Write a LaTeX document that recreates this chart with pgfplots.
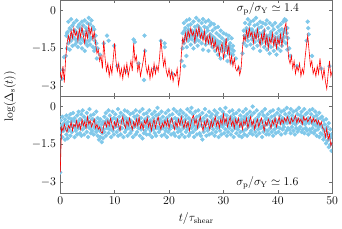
\documentclass[border=0pt,12pt]{standalone}
\usepackage{pgfplots}
\pgfplotsset{compat=1.18}
\usepgfplotslibrary{groupplots}
\definecolor{dotblue}{RGB}{128,200,234}
\definecolor{framegray}{RGB}{110,110,110}
\begin{document}
\begin{tikzpicture}
\begin{groupplot}[
    group style={group size=1 by 2, vertical sep=0pt, xticklabels at=edge bottom},
    width=274pt, height=97pt, scale only axis,
    xmin=0, xmax=50, ymin=-3.4, ymax=0.4,
    xtick={0,10,20,30,40,50},
    ytick={-3,-1.5,0},
    axis line style={framegray},
    tick style={framegray, thin},
    major tick length=3pt,
    tick align=inside,
    clip marker paths=true,
    blue dots/.style={only marks, mark=*, mark size=2.0pt, color=dotblue},
    red line/.style={color=red, line width=0.6pt, mark=none},
]
% ---- sigma_p/sigma_Y = 1.4 ----
\nextgroupplot[ylabel={$\log(\Delta_{\rm s}(t))$},
    ylabel style={at={(axis description cs:-0.185,0)}, anchor=center}]
\addplot[blue dots] coordinates {
(1.25,-0.9)(1.5,-0.45)(1.75,-0.7)(2,-0.35)(2.25,-0.6)(2.5,-0.5)(2.75,-0.8)(3,-0.4)
(3.25,-0.65)(3.5,-0.55)(3.75,-0.75)(4,-0.45)(4.25,-0.6)(4.5,-0.4)(4.75,-0.7)(5,-0.5)
(5.25,-0.3)(5.5,-0.55)(5.75,-0.4)(6,-0.65)(6.25,-0.75)(6.5,-1.0)
(22.5,-0.9)(22.75,-0.5)(23,-0.7)(23.25,-0.4)(23.5,-0.6)(23.75,-0.35)(24,-0.55)(24.25,-0.8)
(24.5,-0.45)(24.75,-0.65)(25,-0.3)(25.25,-0.6)(25.5,-0.4)(25.75,-0.75)(26,-0.5)(26.25,-0.35)
(26.5,-0.65)(26.75,-0.45)(27,-0.7)(27.25,-0.4)(27.5,-0.6)(27.75,-0.5)(28,-0.8)(28.25,-0.55)
(28.5,-0.7)(28.75,-0.9)(29,-0.65)(29.25,-1.0)(29.5,-0.8)(29.75,-1.1)(30,-0.9)(30.25,-1.2)
(30.5,-0.95)(30.75,-1.15)(31,-1.0)(31.25,-1.3)(31.5,-1.1)(31.75,-1.4)
(33.75,-0.8)(34,-0.5)(34.25,-0.7)(34.5,-0.35)(34.75,-0.55)(35,-0.45)(35.25,-0.75)(35.5,-0.4)
(35.75,-0.6)(36,-0.3)(36.25,-0.55)(36.5,-0.7)(36.75,-0.45)(37,-0.65)(37.25,-0.5)(37.5,-0.8)
(37.75,-0.55)(38,-0.4)(38.25,-0.7)(38.5,-0.5)(38.75,-0.85)(39,-0.6)(39.25,-0.75)(39.5,-0.5)
(39.75,-0.9)(40,-0.65)(40.25,-0.8)(40.5,-0.55)(40.75,-0.75)(41,-0.45)(41.25,-0.35)(41.5,-0.4)
(41.75,-0.7)
};
\addplot[blue dots] coordinates {
(1.125,-1.0)(1.375,-0.85)(1.625,-1.1)(1.875,-0.75)(2.125,-0.95)(2.375,-1.05)(2.625,-0.8)(2.875,-1.15)
(3.125,-0.9)(3.375,-1.0)(3.625,-0.7)(3.875,-1.1)(4.125,-0.85)(4.375,-0.95)(4.625,-1.2)(4.875,-0.8)
(5.125,-1.0)(5.375,-0.9)(5.625,-1.1)(5.875,-0.75)(6.125,-1.05)(6.375,-1.2)(6.625,-1.3)
(22.625,-1.2)(22.875,-0.8)(23.125,-1.0)(23.375,-0.9)(23.625,-0.75)(23.875,-1.1)(24.125,-0.85)(24.375,-1.0)
(24.625,-0.95)(24.875,-0.8)(25.125,-1.15)(25.375,-0.9)(25.625,-0.7)(25.875,-1.05)(26.125,-0.85)(26.375,-1.0)
(26.625,-0.9)(26.875,-1.1)(27.125,-0.8)(27.375,-1.0)(27.625,-0.95)(27.875,-1.2)(28.125,-1.05)(28.375,-1.1)
(28.625,-1.3)(28.875,-1.2)(29.125,-1.35)(29.375,-1.25)(29.625,-1.5)(29.875,-1.4)(30.125,-1.3)(30.375,-1.55)
(30.625,-1.45)(30.875,-1.6)(31.125,-1.4)(31.375,-1.7)(31.625,-1.55)(31.875,-1.6)
(33.875,-1.0)(34.125,-0.8)(34.375,-1.05)(34.625,-0.9)(34.875,-0.75)(35.125,-1.0)(35.375,-0.85)(35.625,-1.1)
(35.875,-0.95)(36.125,-0.8)(36.375,-1.0)(36.625,-0.9)(36.875,-1.15)(37.125,-0.95)(37.375,-0.85)(37.625,-1.1)
(37.875,-1.0)(38.125,-1.2)(38.375,-1.05)(38.625,-0.95)(38.875,-1.15)(39.125,-1.0)(39.375,-1.2)(39.625,-1.1)
(39.875,-1.3)(40.125,-1.05)(40.375,-1.15)(40.625,-0.95)(40.875,-1.1)(41.125,-0.85)(41.375,-0.75)(41.625,-0.9)
(41.875,-1.1)
};
\addplot[blue dots] coordinates {
(1,-1.8)(1.25,-1.5)(1.5,-1.3)(1.75,-1.55)(2,-1.2)(2.25,-1.4)(2.5,-1.1)(2.75,-1.35)
(3,-1.25)(3.25,-1.45)(3.5,-1.15)(3.75,-1.3)(4,-1.5)(4.25,-1.2)(4.5,-1.6)(4.75,-1.3)
(5,-1.4)(5.25,-1.2)(5.5,-1.35)(5.75,-1.1)(6,-1.45)(6.25,-1.6)(6.5,-1.5)(6.75,-1.9)
(22.5,-1.5)(22.75,-1.3)(23,-1.1)(23.25,-1.45)(23.5,-1.2)(23.75,-1.0)(24,-1.35)(24.25,-1.15)
(24.5,-1.5)(24.75,-1.25)(25,-1.05)(25.25,-1.4)(25.5,-1.2)(25.75,-1.0)(26,-1.3)(26.25,-1.55)
(26.5,-1.1)(26.75,-1.35)(27,-1.2)(27.25,-1.6)(27.5,-1.3)(27.75,-1.1)(28,-1.45)(28.25,-1.25)
(28.5,-1.6)(28.75,-1.4)(29,-1.75)(29.25,-1.5)(29.5,-1.9)(29.75,-1.6)(30,-1.45)(30.25,-1.8)
(30.5,-1.55)(30.75,-2.0)(31,-1.7)(31.25,-1.5)(31.5,-2.05)(31.75,-1.75)
(33.75,-1.3)(34,-1.1)(34.25,-1.4)(34.5,-1.2)(34.75,-1.0)(35,-1.35)(35.25,-1.15)(35.5,-1.5)
(35.75,-1.25)(36,-1.05)(36.25,-1.4)(36.5,-1.2)(36.75,-1.6)(37,-1.3)(37.25,-1.1)(37.5,-1.45)
(37.75,-1.25)(38,-1.55)(38.25,-1.35)(38.5,-1.7)(38.75,-1.45)(39,-1.2)(39.25,-1.6)(39.5,-1.35)
(39.75,-1.75)(40,-1.5)(40.25,-1.25)(40.5,-1.6)(40.75,-1.4)(41,-1.2)(41.25,-1.05)(41.5,-1.3)
(41.75,-1.55)
};
\addplot[blue dots] coordinates {
(0.3,-2.7)(0.45,-2.35)(0.7,-1.85)(6.9,-1.5)(7.3,-1.75)(8,-1.3)(8.6,-1.0)(8.9,-1.2)
(9.9,-1.4)(10.5,-2.2)(12.1,-2.4)(13.5,-1.15)(13.7,-1.25)(14.4,-2.1)(15.5,-1.0)(15.6,-1.6)
(15.4,-2.75)(17.3,-2.3)(18.5,-1.2)(19.2,-1.3)(19.2,-1.45)(20.6,-2.5)(22.3,-2.0)(22.8,-2.2)
(23.2,-1.8)(32.3,-1.9)(32.9,-2.3)(33.5,-1.7)(42.1,-1.5)(42.3,-1.8)(43.5,-2.2)(45.3,-1.2)
(45.5,-0.45)(45.6,-0.7)(45.7,-0.95)(46.3,-1.8)(48,-2.3)(49.5,-2.2)
};
\addplot[red line] coordinates {
(0,-2.45)(0.25,-2.7)(0.5,-2.2)(0.75,-2.85)(1,-1.9)(1.25,-1.3)(1.5,-1.0)(1.75,-1.25)
(2,-0.8)(2.25,-1.1)(2.5,-0.7)(2.75,-1.0)(3,-0.85)(3.25,-1.2)(3.5,-0.75)(3.75,-1.05)
(4,-0.65)(4.25,-1.0)(4.5,-1.3)(4.75,-0.8)(5,-1.1)(5.25,-0.6)(5.5,-0.95)(5.75,-0.7)
(6,-1.15)(6.25,-0.85)(6.5,-1.3)(6.75,-1.7)(7,-1.55)(7.25,-2.0)(7.5,-1.8)(7.75,-2.3)
(8,-1.2)(8.25,-1.9)(8.5,-2.4)(8.75,-2.1)(9,-2.6)(9.25,-2.2)(9.5,-2.5)(9.75,-1.9)
(10,-1.3)(10.25,-2.0)(10.5,-2.4)(10.75,-2.1)(11,-2.6)(11.25,-2.3)(11.5,-2.7)(11.75,-2.2)
(12,-2.5)(12.25,-2.1)(12.5,-2.6)(12.75,-2.3)(13,-2.0)(13.25,-2.4)(13.5,-1.3)(13.75,-2.0)
(14,-1.8)(14.25,-2.4)(14.5,-2.1)(14.75,-2.6)(15,-2.3)(15.25,-2.0)(15.5,-1.6)(15.75,-2.2)
(16,-2.5)(16.25,-2.2)(16.5,-2.7)(16.75,-2.3)(17,-2.6)(17.25,-2.1)(17.5,-2.5)(17.75,-2.2)
(18,-2.4)(18.25,-1.9)(18.5,-1.15)(18.75,-1.7)(19,-2.2)(19.25,-1.9)(19.5,-2.4)(19.75,-2.6)
(20,-2.3)(20.25,-2.7)(20.5,-2.4)(20.75,-2.8)(21,-2.5)(21.25,-2.6)(21.5,-2.3)(21.75,-2.95)
(22,-2.6)(22.25,-1.8)(22.5,-1.1)(22.75,-1.3)(23,-0.9)(23.25,-1.2)(23.5,-0.8)(23.75,-1.05)
(24,-0.7)(24.25,-1.0)(24.5,-0.85)(24.75,-1.25)(25,-0.75)(25.25,-1.0)(25.5,-0.65)(25.75,-1.1)
(26,-0.9)(26.25,-1.2)(26.5,-0.8)(26.75,-1.3)(27,-1.0)(27.25,-1.3)(27.5,-0.95)(27.75,-1.4)
(28,-1.1)(28.25,-1.5)(28.5,-1.2)(28.75,-1.6)(29,-1.4)(29.25,-1.8)(29.5,-1.5)(29.75,-1.3)
(30,-1.9)(30.25,-1.6)(30.5,-1.1)(30.75,-1.7)(31,-1.4)(31.25,-2.1)(31.5,-1.8)(31.75,-2.2)
(32,-1.9)(32.25,-2.3)(32.5,-2.4)(32.75,-2.2)(33,-2.55)(33.25,-2.3)(33.5,-1.5)(33.75,-1.0)
(34,-1.2)(34.25,-0.8)(34.5,-1.1)(34.75,-0.7)(35,-1.0)(35.25,-0.85)(35.5,-1.3)(35.75,-0.9)
(36,-1.15)(36.25,-0.75)(36.5,-1.1)(36.75,-1.4)(37,-0.95)(37.25,-1.25)(37.5,-0.8)(37.75,-1.35)
(38,-1.0)(38.25,-1.5)(38.5,-1.1)(38.75,-1.3)(39,-0.9)(39.25,-1.4)(39.5,-1.05)(39.75,-1.5)
(40,-1.1)(40.25,-1.35)(40.5,-0.95)(40.75,-1.4)(41,-1.0)(41.25,-0.7)(41.5,-0.5)(41.75,-1.2)
(42,-1.9)(42.25,-2.1)(42.5,-1.8)(42.75,-2.3)(43,-2.0)(43.25,-2.5)(43.5,-2.2)(43.75,-2.4)
(44,-2.1)(44.25,-2.6)(44.5,-2.3)(44.75,-2.5)(45,-1.9)(45.25,-1.4)(45.5,-1.0)(45.75,-1.6)
(46,-2.2)(46.25,-2.0)(46.5,-2.5)(46.75,-2.3)(47,-2.6)(47.25,-2.2)(47.5,-2.5)(47.75,-1.9)
(48,-2.4)(48.25,-2.7)(48.5,-2.3)(48.75,-2.8)(49,-3.1)(49.25,-2.5)(49.5,-2.0)(49.75,-2.6)
(50,-2.4)
};
\node at (axis cs:38.2,0.05) {$\sigma_{\rm p}/\sigma_{\rm Y}\simeq 1.4$};
% ---- sigma_p/sigma_Y = 1.6 ----
\nextgroupplot[xlabel={$t/\tau_{\rm shear}$}]
\addplot[blue dots] coordinates {
(0,-2.6)
(0.125,-0.55)(0.375,-0.4)(0.625,-0.7)(0.875,-0.5)(1.125,-0.35)(1.375,-0.6)(1.625,-0.45)(1.875,-0.3)
(2.125,-0.5)(2.375,-0.25)(2.625,-0.45)(2.875,-0.6)(3.125,-0.35)(3.375,-0.2)(3.625,-0.5)(3.875,-0.3)
(4.125,-0.15)(4.375,-0.4)(4.625,-0.55)(4.875,-0.25)(5.125,-0.45)(5.375,-0.1)(5.625,-0.35)(5.875,-0.5)
(6.125,-0.3)(6.375,-0.55)(6.625,-0.2)(6.875,-0.45)(7.125,-0.6)(7.375,-0.5)(7.625,-0.7)(7.875,-0.6)
(8.125,-0.4)(8.375,-0.25)(8.625,-0.5)(8.875,-0.15)(9.125,-0.35)(9.375,-0.55)(9.625,-0.2)(9.875,-0.45)
(10.125,-0.3)(10.375,-0.5)(10.625,-0.1)(10.875,-0.4)(11.125,-0.25)(11.375,-0.55)(11.625,-0.35)(11.875,-0.15)
(12.125,-0.45)(12.375,-0.2)(12.625,-0.5)(12.875,-0.3)(13.125,-0.6)(13.375,-0.25)(13.625,-0.4)(13.875,-0.15)
(14.125,-0.35)(14.375,-0.55)(14.625,-0.2)(14.875,-0.45)(15.125,-0.1)(15.375,-0.3)(15.625,-0.5)(15.875,-0.25)
(16.125,-0.4)(16.375,-0.15)(16.625,-0.55)(16.875,-0.3)(17.125,-0.45)(17.375,-0.2)(17.625,-0.35)(17.875,-0.05)
(18.125,-0.3)(18.375,-0.5)(18.625,-0.2)(18.875,-0.4)(19.125,-0.6)(19.375,-0.25)(19.625,-0.45)(19.875,-0.15)
(20.125,-0.35)(20.375,-0.55)(20.625,-0.3)(20.875,-0.1)(21.125,-0.45)(21.375,-0.2)(21.625,-0.5)(21.875,-0.3)
(22.125,-0.15)(22.375,-0.4)(22.625,-0.25)(22.875,-0.55)(23.125,-0.35)(23.375,-0.1)(23.625,-0.45)(23.875,-0.2)
(24.125,-0.05)(24.375,-0.3)(24.625,-0.5)(24.875,-0.2)(25.125,-0.4)(25.375,-0.15)(25.625,-0.35)(25.875,-0.55)
(26.125,-0.25)(26.375,-0.45)(26.625,-0.1)(26.875,-0.35)(27.125,-0.55)(27.375,-0.2)(27.625,-0.4)(27.875,-0.3)
(28.125,-0.5)(28.375,-0.15)(28.625,-0.35)(28.875,-0.25)(29.125,-0.45)(29.375,-0.1)(29.625,-0.4)(29.875,-0.2)
(30.125,-0.3)(30.375,-0.05)(30.625,-0.35)(30.875,-0.5)(31.125,-0.2)(31.375,-0.4)(31.625,-0.15)(31.875,-0.3)
(32.125,-0.45)(32.375,-0.25)(32.625,-0.55)(32.875,-0.15)(33.125,-0.35)(33.375,-0.5)(33.625,-0.2)(33.875,-0.4)
(34.125,-0.1)(34.375,-0.3)(34.625,-0.45)(34.875,-0.2)(35.125,-0.35)(35.375,0.0)(35.625,-0.25)(35.875,-0.5)
(36.125,-0.15)(36.375,-0.4)(36.625,-0.3)(36.875,-0.55)(37.125,-0.2)(37.375,-0.35)(37.625,-0.1)(37.875,-0.45)
(38.125,-0.3)(38.375,-0.5)(38.625,-0.2)(38.875,-0.4)(39.125,-0.15)(39.375,-0.35)(39.625,-0.55)(39.875,-0.25)
(40.125,-0.1)(40.375,-0.35)(40.625,-0.2)(40.875,-0.45)(41.125,-0.15)(41.375,-0.3)(41.625,-0.05)(41.875,-0.4)
(42.125,-0.25)(42.375,-0.1)(42.625,-0.35)(42.875,-0.2)(43.125,-0.45)(43.375,-0.15)(43.625,-0.3)(43.875,-0.05)
(44.125,-0.35)(44.375,-0.2)(44.625,-0.4)(44.875,-0.1)(45.125,-0.3)(45.375,-0.25)(45.625,-0.45)(45.875,-0.15)
(46.125,-0.3)(46.375,-0.1)(46.625,-0.4)(46.875,-0.2)(47.125,-0.35)(47.375,-0.5)(47.625,-0.25)(47.875,-0.45)
(48.125,-0.4)(48.375,-0.55)(48.625,-0.7)(48.875,-0.5)(49.125,-0.8)(49.375,-0.65)(49.625,-0.9)(49.875,-1.1)
};
\addplot[blue dots] coordinates {
(0.25,-0.75)(0.5,-0.9)(0.75,-0.65)(1,-0.85)(1.25,-0.7)(1.5,-0.95)(1.75,-0.8)(2,-0.6)
(2.25,-0.75)(2.5,-0.55)(2.75,-0.85)(3,-0.7)(3.25,-0.6)(3.5,-0.8)(3.75,-0.5)(4,-0.7)
(4.25,-0.65)(4.5,-0.8)(4.75,-0.55)(5,-0.75)(5.25,-0.6)(5.5,-0.85)(5.75,-0.7)(6,-0.5)
(6.25,-0.8)(6.5,-0.65)(6.75,-0.9)(7,-0.75)(7.25,-0.95)(7.5,-0.85)(7.75,-1.05)(8,-0.9)
(8.25,-0.7)(8.5,-0.55)(8.75,-0.8)(9,-0.6)(9.25,-0.75)(9.5,-0.5)(9.75,-0.85)(10,-0.65)
(10.25,-0.7)(10.5,-0.55)(10.75,-0.8)(11,-0.6)(11.25,-0.85)(11.5,-0.65)(11.75,-0.5)(12,-0.75)
(12.25,-0.6)(12.5,-0.8)(12.75,-0.7)(13,-0.55)(13.25,-0.85)(13.5,-0.65)(13.75,-0.75)(14,-0.5)
(14.25,-0.7)(14.5,-0.6)(14.75,-0.85)(15,-0.65)(15.25,-0.75)(15.5,-0.55)(15.75,-0.8)(16,-0.6)
(16.25,-0.7)(16.5,-0.55)(16.75,-0.8)(17,-0.65)(17.25,-0.75)(17.5,-0.6)(17.75,-0.85)(18,-0.5)
(18.25,-0.65)(18.5,-0.8)(18.75,-0.6)(19,-0.75)(19.25,-0.55)(19.5,-0.85)(19.75,-0.7)(20,-0.6)
(20.25,-0.75)(20.5,-0.5)(20.75,-0.8)(21,-0.65)(21.25,-0.7)(21.5,-0.55)(21.75,-0.85)(22,-0.6)
(22.25,-0.7)(22.5,-0.6)(22.75,-0.75)(23,-0.5)(23.25,-0.8)(23.5,-0.65)(23.75,-0.7)(24,-0.55)
(24.25,-0.65)(24.5,-0.75)(24.75,-0.55)(25,-0.8)(25.25,-0.6)(25.5,-0.7)(25.75,-0.5)(26,-0.75)
(26.25,-0.8)(26.5,-0.6)(26.75,-0.7)(27,-0.55)(27.25,-0.85)(27.5,-0.65)(27.75,-0.75)(28,-0.6)
(28.25,-0.7)(28.5,-0.55)(28.75,-0.8)(29,-0.6)(29.25,-0.65)(29.5,-0.75)(29.75,-0.5)(30,-0.7)
(30.25,-0.55)(30.5,-0.7)(30.75,-0.6)(31,-0.8)(31.25,-0.65)(31.5,-0.5)(31.75,-0.75)(32,-0.6)
(32.25,-0.7)(32.5,-0.6)(32.75,-0.8)(33,-0.55)(33.25,-0.75)(33.5,-0.65)(33.75,-0.7)(34,-0.5)
(34.25,-0.6)(34.5,-0.75)(34.75,-0.55)(35,-0.7)(35.25,-0.65)(35.5,-0.8)(35.75,-0.6)(36,-0.75)
(36.25,-0.55)(36.5,-0.7)(36.75,-0.65)(37,-0.8)(37.25,-0.6)(37.5,-0.75)(37.75,-0.5)(38,-0.7)
(38.25,-0.65)(38.5,-0.55)(38.75,-0.75)(39,-0.6)(39.25,-0.7)(39.5,-0.5)(39.75,-0.8)(40,-0.6)
(40.25,-0.55)(40.5,-0.65)(40.75,-0.5)(41,-0.7)(41.25,-0.6)(41.5,-0.55)(41.75,-0.65)(42,-0.5)
(42.25,-0.6)(42.5,-0.5)(42.75,-0.65)(43,-0.55)(43.25,-0.7)(43.5,-0.5)(43.75,-0.6)(44,-0.55)
(44.25,-0.5)(44.5,-0.65)(44.75,-0.55)(45,-0.7)(45.25,-0.6)(45.5,-0.5)(45.75,-0.65)(46,-0.55)
(46.25,-0.6)(46.5,-0.7)(46.75,-0.55)(47,-0.75)(47.25,-0.65)(47.5,-0.8)(47.75,-0.7)(48,-0.75)
(48.25,-0.85)(48.5,-0.95)(48.75,-0.9)(49,-1.1)(49.25,-1.05)(49.5,-1.25)(49.75,-1.2)(50,-1.45)
};
\addplot[blue dots] coordinates {
(0.125,-1.0)(0.375,-1.2)(0.625,-0.95)(0.875,-1.3)(1.125,-1.1)(1.375,-1.25)(1.625,-0.9)(1.875,-1.15)
(2.125,-1.0)(2.375,-0.8)(2.625,-1.2)(2.875,-0.95)(3.125,-1.1)(3.375,-0.85)(3.625,-1.05)(3.875,-1.15)
(4.125,-0.9)(4.375,-1.1)(4.625,-0.8)(4.875,-1.0)(5.125,-1.2)(5.375,-0.85)(5.625,-1.05)(5.875,-0.95)
(6.125,-1.1)(6.375,-0.85)(6.625,-1.0)(6.875,-1.15)(7.125,-1.3)(7.375,-1.2)(7.625,-1.4)(7.875,-1.25)
(8.125,-1.0)(8.375,-1.15)(8.625,-0.85)(8.875,-1.05)(9.125,-0.9)(9.375,-1.2)(9.625,-0.95)(9.875,-1.1)
(10.125,-0.8)(10.375,-1.0)(10.625,-1.15)(10.875,-0.9)(11.125,-1.1)(11.375,-0.85)(11.625,-1.2)(11.875,-1.0)
(12.125,-0.9)(12.375,-1.15)(12.625,-0.85)(12.875,-1.05)(13.125,-0.95)(13.375,-1.2)(13.625,-0.8)(13.875,-1.1)
(14.125,-1.0)(14.375,-0.85)(14.625,-1.15)(14.875,-0.9)(15.125,-1.25)(15.375,-1.05)(15.625,-0.95)(15.875,-1.1)
(16.125,-0.85)(16.375,-1.1)(16.625,-0.95)(16.875,-1.2)(17.125,-0.9)(17.375,-1.05)(17.625,-1.15)(17.875,-0.8)
(18.125,-1.0)(18.375,-0.9)(18.625,-1.15)(18.875,-0.85)(19.125,-1.1)(19.375,-0.95)(19.625,-1.2)(19.875,-1.0)
(20.125,-0.9)(20.375,-1.1)(20.625,-0.8)(20.875,-1.05)(21.125,-1.15)(21.375,-0.85)(21.625,-1.0)(21.875,-1.2)
(22.125,-0.95)(22.375,-1.1)(22.625,-0.85)(22.875,-1.2)(23.125,-1.0)(23.375,-0.9)(23.625,-1.15)(23.875,-1.05)
(24.125,-0.85)(24.375,-1.0)(24.625,-1.2)(24.875,-0.9)(25.125,-1.1)(25.375,-0.8)(25.625,-1.05)(25.875,-1.15)
(26.125,-1.3)(26.375,-1.0)(26.625,-0.85)(26.875,-1.15)(27.125,-0.95)(27.375,-1.1)(27.625,-0.8)(27.875,-1.05)
(28.125,-0.9)(28.375,-1.15)(28.625,-1.0)(28.875,-0.85)(29.125,-1.2)(29.375,-0.95)(29.625,-1.1)(29.875,-0.8)
(30.125,-1.05)(30.375,-0.9)(30.625,-1.15)(30.875,-1.0)(31.125,-0.85)(31.375,-1.1)(31.625,-0.95)(31.875,-1.2)
(32.125,-0.85)(32.375,-1.05)(32.625,-0.9)(32.875,-1.15)(33.125,-1.0)(33.375,-1.2)(33.625,-0.95)(33.875,-1.1)
(34.125,-0.9)(34.375,-1.15)(34.625,-0.8)(34.875,-1.05)(35.125,-0.95)(35.375,-1.1)(35.625,-0.85)(35.875,-1.0)
(36.125,-1.15)(36.375,-0.9)(36.625,-1.05)(36.875,-0.85)(37.125,-1.2)(37.375,-1.0)(37.625,-0.9)(37.875,-1.1)
(38.125,-0.95)(38.375,-1.1)(38.625,-0.85)(38.875,-1.0)(39.125,-1.15)(39.375,-0.9)(39.625,-1.05)(39.875,-0.8)
(40.125,-1.0)(40.375,-0.85)(40.625,-1.1)(40.875,-0.9)(41.125,-0.8)(41.375,-1.05)(41.625,-0.95)(41.875,-0.85)
(42.125,-0.9)(42.375,-1.05)(42.625,-0.8)(42.875,-0.95)(43.125,-1.1)(43.375,-0.85)(43.625,-1.0)(43.875,-0.9)
(44.125,-0.8)(44.375,-1.0)(44.625,-0.9)(44.875,-1.05)(45.125,-0.85)(45.375,-0.95)(45.625,-1.1)(45.875,-0.9)
(46.125,-1.0)(46.375,-0.85)(46.625,-1.05)(46.875,-0.95)(47.125,-1.15)(47.375,-0.9)(47.625,-1.2)(47.875,-1.05)
(48.125,-1.1)(48.375,-1.3)(48.625,-1.2)(48.875,-1.45)(49.125,-1.35)(49.375,-1.6)(49.625,-1.5)(49.875,-1.75)
};
\addplot[red line] coordinates {
(0,-2.6)(0.25,-0.8)(0.5,-0.95)(0.75,-0.7)(1,-0.9)(1.25,-1.0)(1.5,-0.75)(1.75,-0.85)
(2,-0.6)(2.25,-0.95)(2.5,-0.7)(2.75,-0.8)(3,-0.55)(3.25,-0.85)(3.5,-0.65)(3.75,-0.9)
(4,-0.5)(4.25,-0.75)(4.5,-0.6)(4.75,-0.85)(5,-0.4)(5.25,-0.7)(5.5,-0.55)(5.75,-0.8)
(6,-0.65)(6.25,-0.5)(6.5,-0.85)(6.75,-0.7)(7,-0.9)(7.25,-0.8)(7.5,-1.0)(7.75,-1.05)
(8,-0.75)(8.25,-0.6)(8.5,-0.8)(8.75,-0.55)(9,-0.75)(9.25,-0.45)(9.5,-0.7)(9.75,-0.9)
(10,-0.6)(10.25,-0.8)(10.5,-0.5)(10.75,-0.75)(11,-0.95)(11.25,-0.6)(11.5,-0.4)(11.75,-0.7)
(12,-0.85)(12.25,-0.55)(12.5,-0.75)(12.75,-0.45)(13,-0.7)(13.25,-0.9)(13.5,-0.6)(13.75,-0.8)
(14,-0.5)(14.25,-0.75)(14.5,-0.4)(14.75,-0.85)(15,-0.65)(15.25,-0.9)(15.5,-0.55)(15.75,-0.7)
(16,-0.45)(16.25,-0.8)(16.5,-0.6)(16.75,-0.95)(17,-0.7)(17.25,-0.5)(17.5,-0.85)(17.75,-0.6)
(18,-0.4)(18.25,-0.7)(18.5,-0.9)(18.75,-0.65)(19,-0.8)(19.25,-0.55)(19.5,-0.75)(19.75,-0.5)
(20,-0.85)(20.25,-0.6)(20.5,-0.45)(20.75,-0.7)(21,-0.9)(21.25,-0.6)(21.5,-0.8)(21.75,-0.5)
(22,-0.75)(22.25,-0.4)(22.5,-0.65)(22.75,-0.85)(23,-0.55)(23.25,-0.8)(23.5,-0.6)(23.75,-0.95)
(24,-0.7)(24.25,-0.45)(24.5,-0.35)(24.75,-0.7)(25,-0.5)(25.25,-0.85)(25.5,-0.6)(25.75,-0.4)
(26,-0.75)(26.25,-0.95)(26.5,-0.6)(26.75,-0.8)(27,-0.5)(27.25,-0.7)(27.5,-0.9)(27.75,-0.55)
(28,-0.8)(28.25,-0.6)(28.5,-0.4)(28.75,-0.75)(29,-0.55)(29.25,-0.85)(29.5,-0.5)(29.75,-0.7)
(30,-0.3)(30.25,-0.65)(30.5,-0.45)(30.75,-0.8)(31,-0.6)(31.25,-0.4)(31.5,-0.75)(31.75,-0.55)
(32,-0.85)(32.25,-0.5)(32.5,-0.7)(32.75,-0.45)(33,-0.8)(33.25,-0.6)(33.5,-0.9)(33.75,-0.55)
(34,-0.7)(34.25,-0.45)(34.5,-0.85)(34.75,-0.6)(35,-0.4)(35.25,-0.75)(35.5,-0.55)(35.75,-0.9)
(36,-0.65)(36.25,-0.5)(36.5,-0.8)(36.75,-0.6)(37,-0.45)(37.25,-0.7)(37.5,-0.95)(37.75,-0.6)
(38,-0.75)(38.25,-0.5)(38.5,-0.65)(38.75,-0.85)(39,-0.55)(39.25,-0.7)(39.5,-0.45)(39.75,-0.8)
(40,-0.6)(40.25,-0.4)(40.5,-0.7)(40.75,-0.5)(41,-0.65)(41.25,-0.45)(41.5,-0.6)(41.75,-0.4)
(42,-0.55)(42.25,-0.7)(42.5,-0.45)(42.75,-0.6)(43,-0.5)(43.25,-0.35)(43.5,-0.65)(43.75,-0.45)
(44,-0.6)(44.25,-0.5)(44.5,-0.7)(44.75,-0.4)(45,-0.55)(45.25,-0.45)(45.5,-0.6)(45.75,-0.5)
(46,-0.4)(46.25,-0.65)(46.5,-0.45)(46.75,-0.6)(47,-0.5)(47.25,-0.7)(47.5,-0.55)(47.75,-0.75)
(48,-0.6)(48.25,-0.85)(48.5,-0.9)(48.75,-1.2)(49,-0.85)(49.25,-1.3)(49.5,-1.1)(49.75,-1.55)
(50,-1.4)
};
\node at (axis cs:38.1,-3.0) {$\sigma_{\rm p}/\sigma_{\rm Y}\simeq 1.6$};
\end{groupplot}
\end{tikzpicture}
\end{document}
